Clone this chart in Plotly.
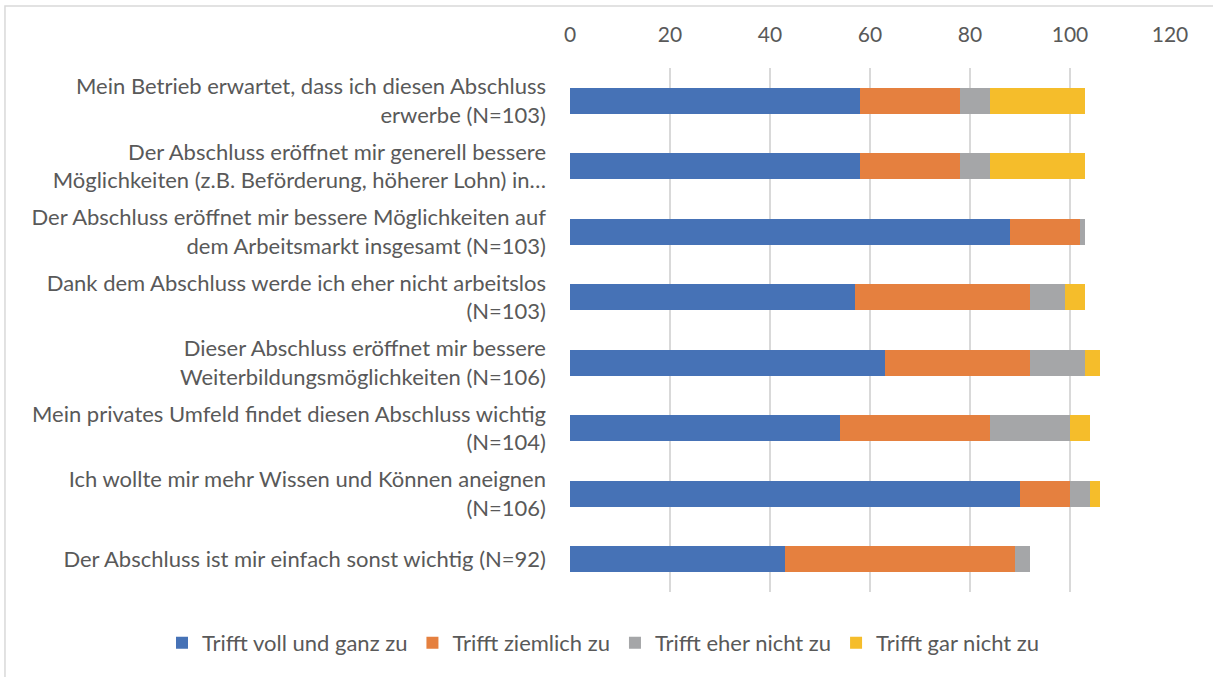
import plotly.graph_objects as go

categories = [
    "Mein Betrieb erwartet, dass ich diesen Abschluss<br>erwerbe (N=103)",
    "Der Abschluss eröffnet mir generell bessere<br>Möglichkeiten (z.B. Beförderung, höherer Lohn) in…",
    "Der Abschluss eröffnet mir bessere Möglichkeiten auf<br>dem Arbeitsmarkt insgesamt (N=103)",
    "Dank dem Abschluss werde ich eher nicht arbeitslos<br>(N=103)",
    "Dieser Abschluss eröffnet mir bessere<br>Weiterbildungsmöglichkeiten (N=106)",
    "Mein privates Umfeld findet diesen Abschluss wichtig<br>(N=104)",
    "Ich wollte mir mehr Wissen und Können aneignen<br>(N=106)",
    "Der Abschluss ist mir einfach sonst wichtig (N=92)",
]
series_names = ["Trifft voll und ganz zu", "Trifft ziemlich zu",
                "Trifft eher nicht zu", "Trifft gar nicht zu"]
voll = [58, 58, 88, 57, 63, 54, 90, 43]
ziemlich = [20, 20, 14, 35, 29, 30, 10, 46]
eher_nicht = [6, 6, 1, 7, 11, 16, 4, 3]
gar_nicht = [19, 19, 0, 4, 3, 4, 2, 0]
x_ticks = [0, 20, 40, 60, 80, 100, 120]

colors = ["#4672B6", "#E5803F", "#A5A6A8", "#F5BD2B"]
font = "Lato, Open Sans, sans-serif"

fig = go.Figure()
for name, vals, col in zip(series_names, [voll, ziemlich, eher_nicht, gar_nicht], colors):
    fig.add_trace(go.Bar(
        y=categories, x=vals, name=name, orientation="h",
        marker=dict(color=col, line=dict(width=0)),
    ))

fig.update_layout(
    barmode="stack",
    bargap=0.6,
    width=1213, height=677,
    margin=dict(l=570, r=43, t=68, b=85, autoexpand=False),
    paper_bgcolor="white", plot_bgcolor="white",
    font=dict(family=font, size=22, color="#595959"),
    # legend anchored left of the plot area so it may span one row
    legend=dict(orientation="h", x=-0.68, xanchor="left", xref="paper",
                y=-0.097, yanchor="middle", yref="paper", font=dict(size=22),
                traceorder="normal"),
    showlegend=True,
    shapes=[dict(type="rect", xref="paper", yref="paper",
                 x0=-0.9417, x1=1.2, y0=-0.3, y1=1.1183,
                 line=dict(color="#d9d9d9", width=1.5))],
)
fig.update_xaxes(
    side="top", range=[0, 120], tickvals=x_ticks,
    showgrid=True, gridcolor="#d9d9d9", gridwidth=1.5,
    zeroline=False, showline=False, ticks="",
    tickfont=dict(size=21, color="#595959"), ticklabelstandoff=21,
)
fig.update_yaxes(
    autorange="reversed", categoryorder="array", categoryarray=categories,
    showgrid=False, zeroline=False, showline=False, ticks="",
    tickfont=dict(size=22, color="#595959"), ticklabelstandoff=23,
)

fig.write_html("out.html", config={"displayModeBar": False},
               post_script="document.body.style.margin='0';")
